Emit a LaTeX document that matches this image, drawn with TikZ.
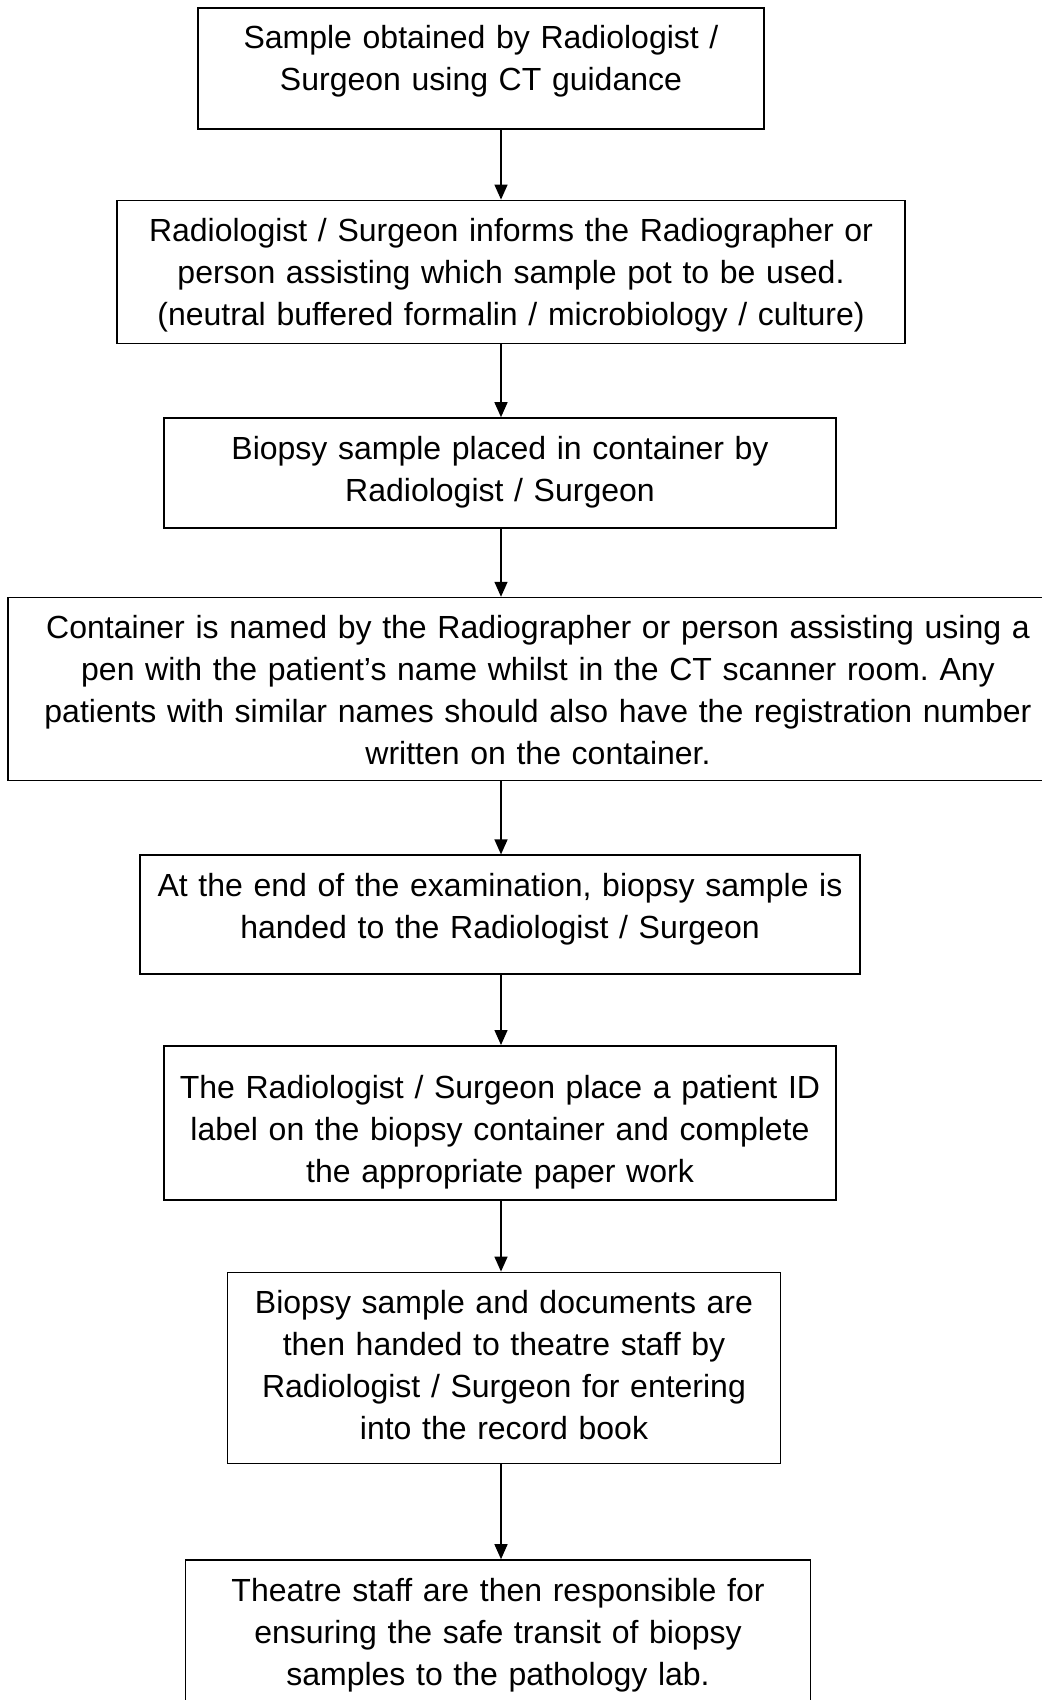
\documentclass[tikz,border=0pt]{standalone}
\usepackage{fontspec}
\setmainfont{Liberation Sans}
\frenchspacing
\usepackage{tikz}
\usetikzlibrary{arrows.meta,positioning}
\tikzset{
    %Define standard arrow tip
    >={Triangle[length=7.5pt,width=6.5pt]},
    %Define style for boxes
    stagebox/.style={
        rectangle,
        draw, line width=0.8pt,
        inner sep=0pt,
        text height=20.5pt,
        align=center,
        font=\fontsize{16pt}{21pt}\selectfont},
    % Define arrow style
    flow/.style={
        ->,
        line width=0.7pt}
}

\begin{document}
\begin{tikzpicture}
    \useasboundingbox (0,0) rectangle (521pt,-850pt);
    %nodes
    \node[stagebox, text width=283pt, text depth=40pt, anchor=north] (obtained) at (240.5pt,-3.5pt)
        {Sample obtained by Radiologist /\\ Surgeon using CT guidance};
    \node[stagebox, text width=394pt, text depth=51pt, below=35pt of obtained, xshift=15pt] (informs)
        {Radiologist / Surgeon informs the Radiographer or\\ person assisting which sample pot to be used.\\ (neutral buffered formalin / microbiology / culture)};
    \node[stagebox, text width=336pt, text depth=34.5pt, below=36.5pt of informs, xshift=-5.5pt] (placed)
        {Biopsy sample placed in container by\\ Radiologist / Surgeon};
    \node[stagebox, text width=530pt, text depth=71pt, below=34pt of placed, xshift=19pt] (named)
        {Container is named by the Radiographer or person assisting using a\\ pen with the patient’s name whilst in the CT scanner room. Any\\ patients with similar names should also have the registration number\\ written on the container.};
    \node[stagebox, text width=360pt, text depth=39pt, below=36.5pt of named, xshift=-19pt] (handed)
        {At the end of the examination, biopsy sample is\\ handed to the Radiologist / Surgeon};
    \node[stagebox, text width=336pt, text height=26.5pt, text depth=50.5pt, below=35pt of handed] (labelled)
        {The Radiologist / Surgeon place a patient ID\\ label on the biopsy container and complete\\ the appropriate paper work};
    \node[stagebox, text width=276.5pt, text depth=75pt, below=35.5pt of labelled, xshift=2pt] (documents)
        {Biopsy sample and documents are\\ then handed to theatre staff by\\ Radiologist / Surgeon for entering\\ into the record book};
    \node[stagebox, text width=312.5pt, text depth=59.5pt, below=47.5pt of documents, xshift=-3pt] (transit)
        {Theatre staff are then responsible for\\ ensuring the safe transit of biopsy\\ samples to the pathology lab.};
    % the arrows all run down one vertical line
    \coordinate (spine) at (250.5pt,0);
    \draw[flow] (obtained.south -| spine) -- (informs.north -| spine);
    \draw[flow] (informs.south -| spine) -- (placed.north -| spine);
    \draw[flow] (placed.south -| spine) -- (named.north -| spine);
    \draw[flow] (named.south -| spine) -- (handed.north -| spine);
    \draw[flow] (handed.south -| spine) -- (labelled.north -| spine);
    \draw[flow] (labelled.south -| spine) -- (documents.north -| spine);
    \draw[flow] (documents.south -| spine) -- (transit.north -| spine);
\end{tikzpicture}
\end{document}
